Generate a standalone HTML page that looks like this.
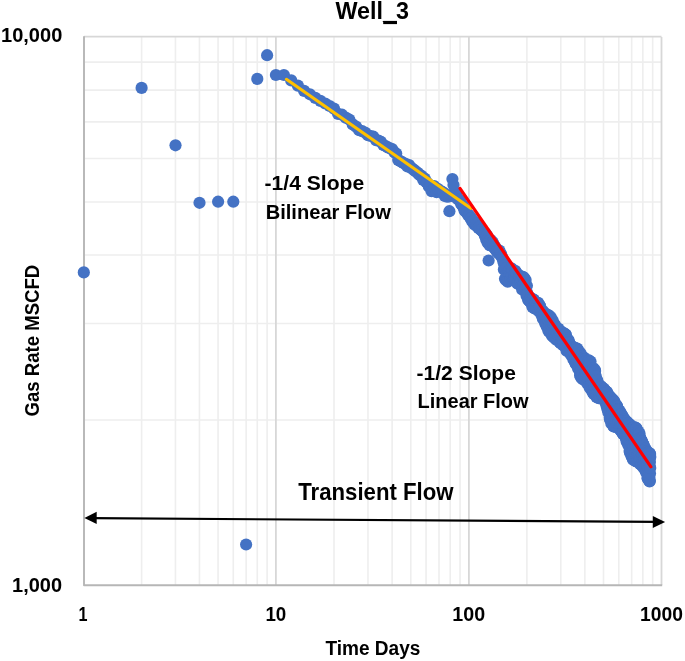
<!DOCTYPE html>
<html><head><meta charset="utf-8"><title>Well_3</title>
<style>html,body{margin:0;padding:0;background:#fff;width:685px;height:661px;overflow:hidden;font-family:"Liberation Sans",sans-serif}svg{display:block;will-change:transform}</style>
</head><body><svg width="685" height="661" viewBox="0 0 685 661"><rect x="0" y="0" width="685" height="661" fill="#fff"/><line x1="141.63" y1="37" x2="141.63" y2="585" stroke="#eeeeee" stroke-width="1.6"/><line x1="175.45" y1="37" x2="175.45" y2="585" stroke="#eeeeee" stroke-width="1.6"/><line x1="199.46" y1="37" x2="199.46" y2="585" stroke="#eeeeee" stroke-width="1.6"/><line x1="218.07" y1="37" x2="218.07" y2="585" stroke="#eeeeee" stroke-width="1.6"/><line x1="233.28" y1="37" x2="233.28" y2="585" stroke="#eeeeee" stroke-width="1.6"/><line x1="246.14" y1="37" x2="246.14" y2="585" stroke="#eeeeee" stroke-width="1.6"/><line x1="257.28" y1="37" x2="257.28" y2="585" stroke="#eeeeee" stroke-width="1.6"/><line x1="267.11" y1="37" x2="267.11" y2="585" stroke="#eeeeee" stroke-width="1.6"/><line x1="334.00" y1="37" x2="334.00" y2="585" stroke="#eeeeee" stroke-width="1.6"/><line x1="367.98" y1="37" x2="367.98" y2="585" stroke="#eeeeee" stroke-width="1.6"/><line x1="392.10" y1="37" x2="392.10" y2="585" stroke="#eeeeee" stroke-width="1.6"/><line x1="410.80" y1="37" x2="410.80" y2="585" stroke="#eeeeee" stroke-width="1.6"/><line x1="426.08" y1="37" x2="426.08" y2="585" stroke="#eeeeee" stroke-width="1.6"/><line x1="439.00" y1="37" x2="439.00" y2="585" stroke="#eeeeee" stroke-width="1.6"/><line x1="450.20" y1="37" x2="450.20" y2="585" stroke="#eeeeee" stroke-width="1.6"/><line x1="460.07" y1="37" x2="460.07" y2="585" stroke="#eeeeee" stroke-width="1.6"/><line x1="526.88" y1="37" x2="526.88" y2="585" stroke="#eeeeee" stroke-width="1.6"/><line x1="560.79" y1="37" x2="560.79" y2="585" stroke="#eeeeee" stroke-width="1.6"/><line x1="584.86" y1="37" x2="584.86" y2="585" stroke="#eeeeee" stroke-width="1.6"/><line x1="603.52" y1="37" x2="603.52" y2="585" stroke="#eeeeee" stroke-width="1.6"/><line x1="618.77" y1="37" x2="618.77" y2="585" stroke="#eeeeee" stroke-width="1.6"/><line x1="631.67" y1="37" x2="631.67" y2="585" stroke="#eeeeee" stroke-width="1.6"/><line x1="642.84" y1="37" x2="642.84" y2="585" stroke="#eeeeee" stroke-width="1.6"/><line x1="652.69" y1="37" x2="652.69" y2="585" stroke="#eeeeee" stroke-width="1.6"/><line x1="84" y1="420.04" x2="661.5" y2="420.04" stroke="#eeeeee" stroke-width="1.6"/><line x1="84" y1="323.54" x2="661.5" y2="323.54" stroke="#eeeeee" stroke-width="1.6"/><line x1="84" y1="255.07" x2="661.5" y2="255.07" stroke="#eeeeee" stroke-width="1.6"/><line x1="84" y1="201.96" x2="661.5" y2="201.96" stroke="#eeeeee" stroke-width="1.6"/><line x1="84" y1="158.57" x2="661.5" y2="158.57" stroke="#eeeeee" stroke-width="1.6"/><line x1="84" y1="121.89" x2="661.5" y2="121.89" stroke="#eeeeee" stroke-width="1.6"/><line x1="84" y1="90.11" x2="661.5" y2="90.11" stroke="#eeeeee" stroke-width="1.6"/><line x1="84" y1="62.08" x2="661.5" y2="62.08" stroke="#eeeeee" stroke-width="1.6"/><line x1="275.90" y1="37" x2="275.90" y2="585" stroke="#d7d7d7" stroke-width="1.8"/><line x1="468.90" y1="37" x2="468.90" y2="585" stroke="#d7d7d7" stroke-width="1.8"/><line x1="661.50" y1="37" x2="661.50" y2="585" stroke="#d7d7d7" stroke-width="1.8"/><line x1="84" y1="36.7" x2="661.5" y2="36.7" stroke="#d7d7d7" stroke-width="1.8"/><polyline points="84,36.3 84,585.3 662.2,585.3" fill="none" stroke="#b6b6b6" stroke-width="1.9" stroke-linejoin="round"/><g fill="#4472c4"><circle cx="83.8" cy="272.4" r="6.1"/><circle cx="141.6" cy="87.9" r="6.1"/><circle cx="175.5" cy="145.3" r="6.1"/><circle cx="199.5" cy="202.8" r="6.1"/><circle cx="218.1" cy="201.7" r="6.1"/><circle cx="233.3" cy="201.7" r="6.1"/><circle cx="246.1" cy="544.5" r="6.1"/><circle cx="257.3" cy="78.9" r="6.1"/><circle cx="267.1" cy="55.2" r="6.1"/><circle cx="275.9" cy="75.0" r="6.1"/><circle cx="283.9" cy="75.0" r="6.1"/><circle cx="291.2" cy="80.4" r="6.1"/><circle cx="297.9" cy="85.6" r="6.1"/><circle cx="304.1" cy="90.9" r="6.1"/><circle cx="309.9" cy="94.3" r="6.1"/><circle cx="315.3" cy="97.9" r="6.1"/><circle cx="320.4" cy="100.9" r="6.1"/><circle cx="325.2" cy="103.5" r="6.1"/><circle cx="329.7" cy="106.0" r="6.1"/><circle cx="334.0" cy="108.6" r="6.1"/><circle cx="338.1" cy="113.9" r="6.1"/><circle cx="342.0" cy="114.7" r="6.1"/><circle cx="345.7" cy="117.6" r="6.1"/><circle cx="349.3" cy="119.5" r="6.1"/><circle cx="352.7" cy="124.4" r="6.1"/><circle cx="356.0" cy="126.6" r="6.1"/><circle cx="359.2" cy="130.2" r="6.1"/><circle cx="362.2" cy="131.2" r="6.1"/><circle cx="365.1" cy="132.5" r="6.1"/><circle cx="368.0" cy="135.2" r="6.1"/><circle cx="370.7" cy="136.0" r="6.1"/><circle cx="373.4" cy="136.7" r="6.1"/><circle cx="376.0" cy="140.1" r="6.1"/><circle cx="378.5" cy="140.6" r="6.1"/><circle cx="380.9" cy="141.8" r="6.1"/><circle cx="383.3" cy="145.0" r="6.1"/><circle cx="385.6" cy="146.0" r="6.1"/><circle cx="387.8" cy="147.4" r="6.1"/><circle cx="390.0" cy="148.3" r="6.1"/><circle cx="392.1" cy="149.1" r="6.1"/><circle cx="394.2" cy="152.1" r="6.1"/><circle cx="396.2" cy="153.5" r="6.1"/><circle cx="398.2" cy="160.0" r="6.1"/><circle cx="400.1" cy="161.0" r="6.1"/><circle cx="402.0" cy="162.1" r="6.1"/><circle cx="403.8" cy="163.3" r="6.1"/><circle cx="405.6" cy="163.8" r="6.1"/><circle cx="407.4" cy="166.4" r="6.1"/><circle cx="409.1" cy="165.0" r="6.1"/><circle cx="410.8" cy="167.8" r="6.1"/><circle cx="412.5" cy="168.7" r="6.1"/><circle cx="414.1" cy="170.1" r="6.1"/><circle cx="415.7" cy="171.3" r="6.1"/><circle cx="417.3" cy="172.6" r="6.1"/><circle cx="418.8" cy="174.1" r="6.1"/><circle cx="420.3" cy="175.4" r="6.1"/><circle cx="421.8" cy="176.1" r="6.1"/><circle cx="423.2" cy="180.0" r="6.1"/><circle cx="424.7" cy="178.6" r="6.1"/><circle cx="426.1" cy="181.9" r="6.1"/><circle cx="427.5" cy="183.1" r="6.1"/><circle cx="428.8" cy="186.4" r="6.1"/><circle cx="430.2" cy="185.3" r="6.1"/><circle cx="431.5" cy="191.1" r="6.1"/><circle cx="432.8" cy="191.0" r="6.1"/><circle cx="434.1" cy="186.1" r="6.1"/><circle cx="435.3" cy="188.6" r="6.1"/><circle cx="436.6" cy="192.1" r="6.1"/><circle cx="437.8" cy="188.8" r="6.1"/><circle cx="439.0" cy="191.2" r="6.1"/><circle cx="440.2" cy="191.4" r="6.1"/><circle cx="441.4" cy="191.4" r="6.1"/><circle cx="442.5" cy="192.4" r="6.1"/><circle cx="443.7" cy="192.8" r="6.1"/><circle cx="444.8" cy="195.9" r="6.1"/><circle cx="445.9" cy="194.9" r="6.1"/><circle cx="447.0" cy="196.6" r="6.1"/><circle cx="448.1" cy="195.6" r="6.1"/><circle cx="449.1" cy="196.5" r="6.1"/><circle cx="450.2" cy="195.8" r="6.1"/><circle cx="451.2" cy="195.4" r="6.1"/><circle cx="452.3" cy="194.9" r="6.1"/><circle cx="453.3" cy="195.6" r="6.1"/><circle cx="454.3" cy="195.2" r="6.1"/><circle cx="455.3" cy="195.8" r="6.1"/><circle cx="456.3" cy="193.5" r="6.1"/><circle cx="457.2" cy="198.8" r="6.1"/><circle cx="458.2" cy="199.0" r="6.1"/><circle cx="459.1" cy="200.0" r="6.1"/><circle cx="460.1" cy="200.7" r="6.1"/><circle cx="461.0" cy="203.6" r="6.1"/><circle cx="461.9" cy="204.8" r="6.1"/><circle cx="462.8" cy="205.6" r="6.1"/><circle cx="463.7" cy="207.9" r="6.1"/><circle cx="464.6" cy="210.7" r="6.1"/><circle cx="465.5" cy="209.8" r="6.1"/><circle cx="466.3" cy="212.2" r="6.1"/><circle cx="467.2" cy="213.0" r="6.1"/><circle cx="468.1" cy="215.1" r="6.1"/><circle cx="468.9" cy="215.3" r="6.1"/><circle cx="469.7" cy="216.1" r="6.1"/><circle cx="470.6" cy="218.4" r="6.1"/><circle cx="471.4" cy="218.3" r="6.1"/><circle cx="472.2" cy="221.2" r="6.1"/><circle cx="473.0" cy="222.1" r="6.1"/><circle cx="473.8" cy="221.2" r="6.1"/><circle cx="474.6" cy="224.8" r="6.1"/><circle cx="475.3" cy="223.2" r="6.1"/><circle cx="476.1" cy="223.8" r="6.1"/><circle cx="476.9" cy="225.0" r="6.1"/><circle cx="477.6" cy="226.6" r="6.1"/><circle cx="478.4" cy="228.0" r="6.1"/><circle cx="479.1" cy="227.3" r="6.1"/><circle cx="479.9" cy="228.1" r="6.1"/><circle cx="480.6" cy="229.5" r="6.1"/><circle cx="481.3" cy="230.2" r="6.1"/><circle cx="482.0" cy="229.6" r="6.1"/><circle cx="482.7" cy="231.4" r="6.1"/><circle cx="483.5" cy="232.2" r="6.1"/><circle cx="484.2" cy="232.9" r="6.1"/><circle cx="484.8" cy="235.6" r="6.1"/><circle cx="485.5" cy="233.2" r="6.1"/><circle cx="486.2" cy="239.5" r="6.1"/><circle cx="486.9" cy="235.4" r="6.1"/><circle cx="487.6" cy="242.8" r="6.1"/><circle cx="488.2" cy="238.9" r="6.1"/><circle cx="488.9" cy="241.2" r="6.1"/><circle cx="489.5" cy="245.1" r="6.1"/><circle cx="490.2" cy="245.1" r="6.1"/><circle cx="490.8" cy="240.1" r="6.1"/><circle cx="491.5" cy="245.6" r="6.1"/><circle cx="492.1" cy="241.9" r="6.1"/><circle cx="492.8" cy="242.5" r="6.1"/><circle cx="493.4" cy="244.4" r="6.1"/><circle cx="494.0" cy="246.6" r="6.1"/><circle cx="494.6" cy="248.2" r="6.1"/><circle cx="495.2" cy="246.8" r="6.1"/><circle cx="495.8" cy="249.6" r="6.1"/><circle cx="496.4" cy="250.9" r="6.1"/><circle cx="497.0" cy="251.0" r="6.1"/><circle cx="497.6" cy="250.6" r="6.1"/><circle cx="498.2" cy="252.7" r="6.1"/><circle cx="498.8" cy="253.8" r="6.1"/><circle cx="499.4" cy="250.6" r="6.1"/><circle cx="500.0" cy="253.3" r="6.1"/><circle cx="500.6" cy="254.8" r="6.1"/><circle cx="501.1" cy="254.0" r="6.1"/><circle cx="501.7" cy="256.7" r="6.1"/><circle cx="502.3" cy="257.8" r="6.1"/><circle cx="502.8" cy="259.0" r="6.1"/><circle cx="503.4" cy="262.1" r="6.1"/><circle cx="503.9" cy="269.5" r="6.1"/><circle cx="504.5" cy="265.6" r="6.1"/><circle cx="505.0" cy="278.7" r="6.1"/><circle cx="505.6" cy="268.4" r="6.1"/><circle cx="506.1" cy="280.3" r="6.1"/><circle cx="506.6" cy="273.5" r="6.1"/><circle cx="507.2" cy="277.1" r="6.1"/><circle cx="507.7" cy="281.6" r="6.1"/><circle cx="508.2" cy="279.4" r="6.1"/><circle cx="508.7" cy="271.3" r="6.1"/><circle cx="509.3" cy="270.3" r="6.1"/><circle cx="509.8" cy="274.9" r="6.1"/><circle cx="510.3" cy="279.1" r="6.1"/><circle cx="510.8" cy="278.2" r="6.1"/><circle cx="511.3" cy="268.3" r="6.1"/><circle cx="511.8" cy="275.0" r="6.1"/><circle cx="512.3" cy="269.4" r="6.1"/><circle cx="512.8" cy="279.8" r="6.1"/><circle cx="513.3" cy="278.2" r="6.1"/><circle cx="513.8" cy="278.7" r="6.1"/><circle cx="514.3" cy="274.7" r="6.1"/><circle cx="514.7" cy="277.8" r="6.1"/><circle cx="515.2" cy="270.9" r="6.1"/><circle cx="515.7" cy="279.4" r="6.1"/><circle cx="516.2" cy="272.4" r="6.1"/><circle cx="516.7" cy="274.0" r="6.1"/><circle cx="517.1" cy="283.0" r="6.1"/><circle cx="517.6" cy="283.6" r="6.1"/><circle cx="518.1" cy="283.0" r="6.1"/><circle cx="518.5" cy="278.5" r="6.1"/><circle cx="519.0" cy="277.3" r="6.1"/><circle cx="519.4" cy="275.3" r="6.1"/><circle cx="519.9" cy="277.7" r="6.1"/><circle cx="520.4" cy="277.6" r="6.1"/><circle cx="520.8" cy="281.7" r="6.1"/><circle cx="521.3" cy="278.7" r="6.1"/><circle cx="521.7" cy="279.0" r="6.1"/><circle cx="522.1" cy="289.5" r="6.1"/><circle cx="522.6" cy="276.8" r="6.1"/><circle cx="523.0" cy="277.0" r="6.1"/><circle cx="523.5" cy="285.6" r="6.1"/><circle cx="523.9" cy="283.9" r="6.1"/><circle cx="524.3" cy="278.1" r="6.1"/><circle cx="524.8" cy="282.9" r="6.1"/><circle cx="525.2" cy="287.3" r="6.1"/><circle cx="525.6" cy="280.0" r="6.1"/><circle cx="526.0" cy="287.0" r="6.1"/><circle cx="526.5" cy="295.6" r="6.1"/><circle cx="526.9" cy="285.8" r="6.1"/><circle cx="527.3" cy="293.5" r="6.1"/><circle cx="527.7" cy="294.6" r="6.1"/><circle cx="528.1" cy="299.8" r="6.1"/><circle cx="528.5" cy="296.2" r="6.1"/><circle cx="528.9" cy="300.3" r="6.1"/><circle cx="529.4" cy="300.7" r="6.1"/><circle cx="529.8" cy="301.4" r="6.1"/><circle cx="530.2" cy="299.0" r="6.1"/><circle cx="530.6" cy="298.1" r="6.1"/><circle cx="531.0" cy="302.9" r="6.1"/><circle cx="531.4" cy="298.7" r="6.1"/><circle cx="531.8" cy="299.7" r="6.1"/><circle cx="532.1" cy="299.5" r="6.1"/><circle cx="532.5" cy="306.9" r="6.1"/><circle cx="532.9" cy="299.3" r="6.1"/><circle cx="533.3" cy="307.4" r="6.1"/><circle cx="533.7" cy="299.5" r="6.1"/><circle cx="534.1" cy="301.1" r="6.1"/><circle cx="534.5" cy="308.4" r="6.1"/><circle cx="534.9" cy="302.8" r="6.1"/><circle cx="535.2" cy="301.8" r="6.1"/><circle cx="535.6" cy="304.6" r="6.1"/><circle cx="536.0" cy="303.1" r="6.1"/><circle cx="536.4" cy="302.5" r="6.1"/><circle cx="536.7" cy="309.1" r="6.1"/><circle cx="537.1" cy="303.0" r="6.1"/><circle cx="537.5" cy="309.2" r="6.1"/><circle cx="537.8" cy="303.3" r="6.1"/><circle cx="538.2" cy="302.8" r="6.1"/><circle cx="538.6" cy="310.1" r="6.1"/><circle cx="538.9" cy="311.3" r="6.1"/><circle cx="539.3" cy="305.8" r="6.1"/><circle cx="539.7" cy="305.5" r="6.1"/><circle cx="540.0" cy="306.3" r="6.1"/><circle cx="540.4" cy="307.5" r="6.1"/><circle cx="540.7" cy="311.1" r="6.1"/><circle cx="541.1" cy="309.8" r="6.1"/><circle cx="541.4" cy="314.7" r="6.1"/><circle cx="541.8" cy="313.0" r="6.1"/><circle cx="542.1" cy="311.6" r="6.1"/><circle cx="542.5" cy="310.9" r="6.1"/><circle cx="542.8" cy="318.6" r="6.1"/><circle cx="543.2" cy="311.8" r="6.1"/><circle cx="543.5" cy="317.9" r="6.1"/><circle cx="543.9" cy="314.2" r="6.1"/><circle cx="544.2" cy="314.4" r="6.1"/><circle cx="544.5" cy="314.2" r="6.1"/><circle cx="544.9" cy="322.1" r="6.1"/><circle cx="545.2" cy="313.3" r="6.1"/><circle cx="545.5" cy="324.0" r="6.1"/><circle cx="545.9" cy="315.8" r="6.1"/><circle cx="546.2" cy="323.6" r="6.1"/><circle cx="546.5" cy="323.2" r="6.1"/><circle cx="546.9" cy="327.0" r="6.1"/><circle cx="547.2" cy="318.6" r="6.1"/><circle cx="547.5" cy="316.4" r="6.1"/><circle cx="547.9" cy="314.9" r="6.1"/><circle cx="548.2" cy="319.4" r="6.1"/><circle cx="548.5" cy="330.9" r="6.1"/><circle cx="548.8" cy="316.3" r="6.1"/><circle cx="549.1" cy="315.9" r="6.1"/><circle cx="549.5" cy="326.1" r="6.1"/><circle cx="549.8" cy="330.6" r="6.1"/><circle cx="550.1" cy="332.5" r="6.1"/><circle cx="550.4" cy="323.1" r="6.1"/><circle cx="550.7" cy="317.0" r="6.1"/><circle cx="551.0" cy="333.3" r="6.1"/><circle cx="551.4" cy="324.8" r="6.1"/><circle cx="551.7" cy="322.3" r="6.1"/><circle cx="552.0" cy="335.7" r="6.1"/><circle cx="552.3" cy="333.7" r="6.1"/><circle cx="552.6" cy="320.2" r="6.1"/><circle cx="552.9" cy="323.8" r="6.1"/><circle cx="553.2" cy="336.5" r="6.1"/><circle cx="553.5" cy="324.1" r="6.1"/><circle cx="553.8" cy="336.8" r="6.1"/><circle cx="554.1" cy="337.7" r="6.1"/><circle cx="554.4" cy="324.1" r="6.1"/><circle cx="554.7" cy="333.0" r="6.1"/><circle cx="555.0" cy="326.6" r="6.1"/><circle cx="555.3" cy="325.8" r="6.1"/><circle cx="555.6" cy="336.8" r="6.1"/><circle cx="555.9" cy="327.9" r="6.1"/><circle cx="556.2" cy="339.7" r="6.1"/><circle cx="556.5" cy="336.3" r="6.1"/><circle cx="556.8" cy="331.5" r="6.1"/><circle cx="557.1" cy="335.1" r="6.1"/><circle cx="557.4" cy="339.1" r="6.1"/><circle cx="557.7" cy="330.8" r="6.1"/><circle cx="558.0" cy="328.5" r="6.1"/><circle cx="558.2" cy="339.2" r="6.1"/><circle cx="558.5" cy="328.9" r="6.1"/><circle cx="558.8" cy="336.2" r="6.1"/><circle cx="559.1" cy="330.5" r="6.1"/><circle cx="559.4" cy="341.9" r="6.1"/><circle cx="559.7" cy="336.5" r="6.1"/><circle cx="560.0" cy="336.3" r="6.1"/><circle cx="560.2" cy="334.6" r="6.1"/><circle cx="560.5" cy="343.0" r="6.1"/><circle cx="560.8" cy="342.6" r="6.1"/><circle cx="561.1" cy="339.0" r="6.1"/><circle cx="561.3" cy="343.5" r="6.1"/><circle cx="561.6" cy="342.6" r="6.1"/><circle cx="561.9" cy="334.5" r="6.1"/><circle cx="562.2" cy="332.2" r="6.1"/><circle cx="562.4" cy="342.0" r="6.1"/><circle cx="562.7" cy="340.0" r="6.1"/><circle cx="563.0" cy="345.2" r="6.1"/><circle cx="563.3" cy="340.4" r="6.1"/><circle cx="563.5" cy="338.8" r="6.1"/><circle cx="563.8" cy="342.6" r="6.1"/><circle cx="564.1" cy="333.3" r="6.1"/><circle cx="564.3" cy="336.7" r="6.1"/><circle cx="564.6" cy="334.2" r="6.1"/><circle cx="564.9" cy="334.2" r="6.1"/><circle cx="565.1" cy="335.0" r="6.1"/><circle cx="565.4" cy="334.3" r="6.1"/><circle cx="565.7" cy="345.8" r="6.1"/><circle cx="565.9" cy="334.9" r="6.1"/><circle cx="566.2" cy="347.5" r="6.1"/><circle cx="566.5" cy="350.6" r="6.1"/><circle cx="566.7" cy="338.5" r="6.1"/><circle cx="567.0" cy="350.4" r="6.1"/><circle cx="567.2" cy="348.1" r="6.1"/><circle cx="567.5" cy="342.3" r="6.1"/><circle cx="567.7" cy="349.0" r="6.1"/><circle cx="568.0" cy="340.4" r="6.1"/><circle cx="568.3" cy="340.2" r="6.1"/><circle cx="568.5" cy="340.0" r="6.1"/><circle cx="568.8" cy="342.2" r="6.1"/><circle cx="569.0" cy="350.1" r="6.1"/><circle cx="569.3" cy="342.8" r="6.1"/><circle cx="569.5" cy="346.0" r="6.1"/><circle cx="569.8" cy="348.7" r="6.1"/><circle cx="570.0" cy="353.3" r="6.1"/><circle cx="570.3" cy="348.8" r="6.1"/><circle cx="570.5" cy="349.9" r="6.1"/><circle cx="570.8" cy="346.8" r="6.1"/><circle cx="571.0" cy="345.6" r="6.1"/><circle cx="571.3" cy="351.7" r="6.1"/><circle cx="571.5" cy="355.8" r="6.1"/><circle cx="571.8" cy="347.4" r="6.1"/><circle cx="572.0" cy="350.7" r="6.1"/><circle cx="572.2" cy="348.0" r="6.1"/><circle cx="572.5" cy="347.2" r="6.1"/><circle cx="572.7" cy="347.9" r="6.1"/><circle cx="573.0" cy="353.7" r="6.1"/><circle cx="573.2" cy="354.5" r="6.1"/><circle cx="573.4" cy="359.3" r="6.1"/><circle cx="573.7" cy="348.4" r="6.1"/><circle cx="573.9" cy="357.6" r="6.1"/><circle cx="574.2" cy="347.5" r="6.1"/><circle cx="574.4" cy="352.4" r="6.1"/><circle cx="574.6" cy="361.0" r="6.1"/><circle cx="574.9" cy="361.2" r="6.1"/><circle cx="575.1" cy="347.8" r="6.1"/><circle cx="575.3" cy="362.1" r="6.1"/><circle cx="575.6" cy="363.4" r="6.1"/><circle cx="575.8" cy="357.9" r="6.1"/><circle cx="576.0" cy="364.1" r="6.1"/><circle cx="576.3" cy="351.5" r="6.1"/><circle cx="576.5" cy="361.8" r="6.1"/><circle cx="576.7" cy="363.5" r="6.1"/><circle cx="577.0" cy="362.1" r="6.1"/><circle cx="577.2" cy="348.6" r="6.1"/><circle cx="577.4" cy="355.2" r="6.1"/><circle cx="577.7" cy="365.7" r="6.1"/><circle cx="577.9" cy="360.4" r="6.1"/><circle cx="578.1" cy="368.4" r="6.1"/><circle cx="578.3" cy="367.4" r="6.1"/><circle cx="578.6" cy="350.7" r="6.1"/><circle cx="578.8" cy="366.4" r="6.1"/><circle cx="579.0" cy="358.0" r="6.1"/><circle cx="579.2" cy="356.5" r="6.1"/><circle cx="579.5" cy="366.9" r="6.1"/><circle cx="579.7" cy="362.4" r="6.1"/><circle cx="579.9" cy="371.7" r="6.1"/><circle cx="580.1" cy="375.2" r="6.1"/><circle cx="580.3" cy="372.5" r="6.1"/><circle cx="580.6" cy="353.4" r="6.1"/><circle cx="580.8" cy="377.1" r="6.1"/><circle cx="581.0" cy="355.7" r="6.1"/><circle cx="581.2" cy="369.4" r="6.1"/><circle cx="581.4" cy="356.1" r="6.1"/><circle cx="581.7" cy="374.2" r="6.1"/><circle cx="581.9" cy="356.6" r="6.1"/><circle cx="582.1" cy="378.5" r="6.1"/><circle cx="582.3" cy="358.3" r="6.1"/><circle cx="582.5" cy="374.7" r="6.1"/><circle cx="582.7" cy="379.1" r="6.1"/><circle cx="583.0" cy="358.3" r="6.1"/><circle cx="583.2" cy="363.7" r="6.1"/><circle cx="583.4" cy="358.2" r="6.1"/><circle cx="583.6" cy="361.5" r="6.1"/><circle cx="583.8" cy="368.5" r="6.1"/><circle cx="584.0" cy="357.5" r="6.1"/><circle cx="584.2" cy="378.6" r="6.1"/><circle cx="584.4" cy="377.7" r="6.1"/><circle cx="584.6" cy="359.4" r="6.1"/><circle cx="584.9" cy="359.6" r="6.1"/><circle cx="585.1" cy="380.1" r="6.1"/><circle cx="585.3" cy="369.3" r="6.1"/><circle cx="585.5" cy="360.6" r="6.1"/><circle cx="585.7" cy="364.2" r="6.1"/><circle cx="585.9" cy="363.3" r="6.1"/><circle cx="586.1" cy="361.0" r="6.1"/><circle cx="586.3" cy="377.3" r="6.1"/><circle cx="586.5" cy="373.7" r="6.1"/><circle cx="586.7" cy="368.3" r="6.1"/><circle cx="586.9" cy="383.0" r="6.1"/><circle cx="587.1" cy="365.5" r="6.1"/><circle cx="587.3" cy="368.6" r="6.1"/><circle cx="587.5" cy="370.8" r="6.1"/><circle cx="587.7" cy="378.4" r="6.1"/><circle cx="587.9" cy="362.3" r="6.1"/><circle cx="588.1" cy="376.6" r="6.1"/><circle cx="588.3" cy="371.1" r="6.1"/><circle cx="588.5" cy="363.1" r="6.1"/><circle cx="588.7" cy="360.4" r="6.1"/><circle cx="588.9" cy="378.7" r="6.1"/><circle cx="589.1" cy="360.7" r="6.1"/><circle cx="589.3" cy="386.6" r="6.1"/><circle cx="589.5" cy="365.4" r="6.1"/><circle cx="589.7" cy="363.1" r="6.1"/><circle cx="589.9" cy="371.1" r="6.1"/><circle cx="590.1" cy="381.0" r="6.1"/><circle cx="590.3" cy="388.4" r="6.1"/><circle cx="590.5" cy="361.5" r="6.1"/><circle cx="590.7" cy="383.4" r="6.1"/><circle cx="590.9" cy="379.1" r="6.1"/><circle cx="591.1" cy="378.5" r="6.1"/><circle cx="591.3" cy="387.6" r="6.1"/><circle cx="591.5" cy="383.3" r="6.1"/><circle cx="591.7" cy="382.7" r="6.1"/><circle cx="591.9" cy="382.4" r="6.1"/><circle cx="592.1" cy="381.0" r="6.1"/><circle cx="592.3" cy="391.3" r="6.1"/><circle cx="592.4" cy="385.9" r="6.1"/><circle cx="592.6" cy="370.0" r="6.1"/><circle cx="592.8" cy="381.7" r="6.1"/><circle cx="593.0" cy="392.1" r="6.1"/><circle cx="593.2" cy="387.2" r="6.1"/><circle cx="593.4" cy="393.3" r="6.1"/><circle cx="593.6" cy="368.4" r="6.1"/><circle cx="593.8" cy="393.9" r="6.1"/><circle cx="594.0" cy="381.0" r="6.1"/><circle cx="594.1" cy="384.5" r="6.1"/><circle cx="594.3" cy="377.9" r="6.1"/><circle cx="594.5" cy="387.2" r="6.1"/><circle cx="594.7" cy="371.4" r="6.1"/><circle cx="594.9" cy="370.0" r="6.1"/><circle cx="595.1" cy="371.0" r="6.1"/><circle cx="595.3" cy="389.7" r="6.1"/><circle cx="595.4" cy="378.8" r="6.1"/><circle cx="595.6" cy="395.0" r="6.1"/><circle cx="595.8" cy="376.4" r="6.1"/><circle cx="596.0" cy="393.0" r="6.1"/><circle cx="596.2" cy="387.2" r="6.1"/><circle cx="596.4" cy="396.9" r="6.1"/><circle cx="596.5" cy="394.2" r="6.1"/><circle cx="596.7" cy="384.7" r="6.1"/><circle cx="596.9" cy="394.7" r="6.1"/><circle cx="597.1" cy="384.7" r="6.1"/><circle cx="597.3" cy="380.3" r="6.1"/><circle cx="597.5" cy="397.5" r="6.1"/><circle cx="597.6" cy="386.1" r="6.1"/><circle cx="597.8" cy="391.9" r="6.1"/><circle cx="598.0" cy="396.9" r="6.1"/><circle cx="598.2" cy="395.3" r="6.1"/><circle cx="598.3" cy="384.5" r="6.1"/><circle cx="598.5" cy="387.1" r="6.1"/><circle cx="598.7" cy="398.1" r="6.1"/><circle cx="598.9" cy="385.4" r="6.1"/><circle cx="599.1" cy="387.0" r="6.1"/><circle cx="599.2" cy="395.1" r="6.1"/><circle cx="599.4" cy="392.9" r="6.1"/><circle cx="599.6" cy="397.0" r="6.1"/><circle cx="599.8" cy="387.5" r="6.1"/><circle cx="599.9" cy="395.1" r="6.1"/><circle cx="600.1" cy="398.3" r="6.1"/><circle cx="600.3" cy="387.3" r="6.1"/><circle cx="600.5" cy="386.7" r="6.1"/><circle cx="600.6" cy="392.3" r="6.1"/><circle cx="600.8" cy="386.1" r="6.1"/><circle cx="601.0" cy="393.4" r="6.1"/><circle cx="601.1" cy="391.1" r="6.1"/><circle cx="601.3" cy="387.4" r="6.1"/><circle cx="601.5" cy="387.0" r="6.1"/><circle cx="601.7" cy="393.2" r="6.1"/><circle cx="601.8" cy="393.2" r="6.1"/><circle cx="602.0" cy="387.5" r="6.1"/><circle cx="602.2" cy="391.3" r="6.1"/><circle cx="602.3" cy="393.1" r="6.1"/><circle cx="602.5" cy="390.1" r="6.1"/><circle cx="602.7" cy="394.3" r="6.1"/><circle cx="602.8" cy="397.6" r="6.1"/><circle cx="603.0" cy="391.2" r="6.1"/><circle cx="603.2" cy="395.8" r="6.1"/><circle cx="603.4" cy="389.6" r="6.1"/><circle cx="603.5" cy="395.8" r="6.1"/><circle cx="603.7" cy="397.0" r="6.1"/><circle cx="603.9" cy="388.8" r="6.1"/><circle cx="604.0" cy="391.1" r="6.1"/><circle cx="604.2" cy="396.7" r="6.1"/><circle cx="604.4" cy="396.3" r="6.1"/><circle cx="604.5" cy="397.5" r="6.1"/><circle cx="604.7" cy="392.0" r="6.1"/><circle cx="604.8" cy="401.1" r="6.1"/><circle cx="605.0" cy="390.2" r="6.1"/><circle cx="605.2" cy="397.8" r="6.1"/><circle cx="605.3" cy="399.7" r="6.1"/><circle cx="605.5" cy="394.0" r="6.1"/><circle cx="605.7" cy="395.9" r="6.1"/><circle cx="605.8" cy="391.4" r="6.1"/><circle cx="606.0" cy="392.5" r="6.1"/><circle cx="606.2" cy="403.6" r="6.1"/><circle cx="606.3" cy="396.7" r="6.1"/><circle cx="606.5" cy="405.6" r="6.1"/><circle cx="606.6" cy="393.2" r="6.1"/><circle cx="606.8" cy="391.9" r="6.1"/><circle cx="607.0" cy="402.4" r="6.1"/><circle cx="607.1" cy="393.7" r="6.1"/><circle cx="607.3" cy="392.8" r="6.1"/><circle cx="607.4" cy="409.1" r="6.1"/><circle cx="607.6" cy="405.9" r="6.1"/><circle cx="607.8" cy="408.8" r="6.1"/><circle cx="607.9" cy="405.9" r="6.1"/><circle cx="608.1" cy="398.1" r="6.1"/><circle cx="608.2" cy="395.3" r="6.1"/><circle cx="608.4" cy="412.5" r="6.1"/><circle cx="608.6" cy="410.8" r="6.1"/><circle cx="608.7" cy="395.0" r="6.1"/><circle cx="608.9" cy="406.4" r="6.1"/><circle cx="609.0" cy="397.8" r="6.1"/><circle cx="609.2" cy="408.8" r="6.1"/><circle cx="609.3" cy="403.6" r="6.1"/><circle cx="609.5" cy="413.0" r="6.1"/><circle cx="609.6" cy="396.9" r="6.1"/><circle cx="609.8" cy="417.8" r="6.1"/><circle cx="610.0" cy="419.3" r="6.1"/><circle cx="610.1" cy="403.6" r="6.1"/><circle cx="610.3" cy="405.7" r="6.1"/><circle cx="610.4" cy="419.2" r="6.1"/><circle cx="610.6" cy="397.4" r="6.1"/><circle cx="610.7" cy="412.0" r="6.1"/><circle cx="610.9" cy="398.1" r="6.1"/><circle cx="611.0" cy="419.7" r="6.1"/><circle cx="611.2" cy="419.4" r="6.1"/><circle cx="611.3" cy="423.4" r="6.1"/><circle cx="611.5" cy="412.1" r="6.1"/><circle cx="611.6" cy="417.4" r="6.1"/><circle cx="611.8" cy="413.9" r="6.1"/><circle cx="611.9" cy="400.3" r="6.1"/><circle cx="612.1" cy="419.1" r="6.1"/><circle cx="612.3" cy="419.7" r="6.1"/><circle cx="612.4" cy="414.0" r="6.1"/><circle cx="612.6" cy="412.6" r="6.1"/><circle cx="612.7" cy="399.3" r="6.1"/><circle cx="612.9" cy="417.7" r="6.1"/><circle cx="613.0" cy="410.0" r="6.1"/><circle cx="613.2" cy="400.7" r="6.1"/><circle cx="613.3" cy="402.5" r="6.1"/><circle cx="613.4" cy="404.0" r="6.1"/><circle cx="613.6" cy="426.5" r="6.1"/><circle cx="613.7" cy="426.3" r="6.1"/><circle cx="613.9" cy="424.3" r="6.1"/><circle cx="614.0" cy="411.7" r="6.1"/><circle cx="614.2" cy="421.9" r="6.1"/><circle cx="614.3" cy="401.2" r="6.1"/><circle cx="614.5" cy="402.3" r="6.1"/><circle cx="614.6" cy="423.4" r="6.1"/><circle cx="614.8" cy="425.4" r="6.1"/><circle cx="614.9" cy="406.5" r="6.1"/><circle cx="615.1" cy="408.4" r="6.1"/><circle cx="615.2" cy="425.8" r="6.1"/><circle cx="615.4" cy="407.6" r="6.1"/><circle cx="615.5" cy="426.8" r="6.1"/><circle cx="615.6" cy="409.2" r="6.1"/><circle cx="615.8" cy="424.7" r="6.1"/><circle cx="615.9" cy="422.0" r="6.1"/><circle cx="616.1" cy="426.8" r="6.1"/><circle cx="616.2" cy="421.5" r="6.1"/><circle cx="616.4" cy="411.3" r="6.1"/><circle cx="616.5" cy="405.3" r="6.1"/><circle cx="616.7" cy="407.9" r="6.1"/><circle cx="616.8" cy="407.1" r="6.1"/><circle cx="616.9" cy="406.0" r="6.1"/><circle cx="617.1" cy="406.8" r="6.1"/><circle cx="617.2" cy="426.0" r="6.1"/><circle cx="617.4" cy="409.5" r="6.1"/><circle cx="617.5" cy="426.0" r="6.1"/><circle cx="617.6" cy="409.7" r="6.1"/><circle cx="617.8" cy="417.1" r="6.1"/><circle cx="617.9" cy="409.6" r="6.1"/><circle cx="618.1" cy="424.7" r="6.1"/><circle cx="618.2" cy="413.5" r="6.1"/><circle cx="618.4" cy="413.8" r="6.1"/><circle cx="618.5" cy="412.1" r="6.1"/><circle cx="618.6" cy="422.4" r="6.1"/><circle cx="618.8" cy="410.5" r="6.1"/><circle cx="618.9" cy="413.6" r="6.1"/><circle cx="619.1" cy="410.6" r="6.1"/><circle cx="619.2" cy="428.5" r="6.1"/><circle cx="619.3" cy="413.9" r="6.1"/><circle cx="619.5" cy="411.8" r="6.1"/><circle cx="619.6" cy="426.7" r="6.1"/><circle cx="619.7" cy="411.3" r="6.1"/><circle cx="619.9" cy="426.5" r="6.1"/><circle cx="620.0" cy="419.5" r="6.1"/><circle cx="620.2" cy="429.6" r="6.1"/><circle cx="620.3" cy="425.9" r="6.1"/><circle cx="620.4" cy="413.8" r="6.1"/><circle cx="620.6" cy="412.9" r="6.1"/><circle cx="620.7" cy="423.7" r="6.1"/><circle cx="620.8" cy="430.7" r="6.1"/><circle cx="621.0" cy="426.3" r="6.1"/><circle cx="621.1" cy="414.4" r="6.1"/><circle cx="621.2" cy="428.6" r="6.1"/><circle cx="621.4" cy="414.2" r="6.1"/><circle cx="621.5" cy="431.5" r="6.1"/><circle cx="621.6" cy="429.0" r="6.1"/><circle cx="621.8" cy="421.1" r="6.1"/><circle cx="621.9" cy="423.9" r="6.1"/><circle cx="622.1" cy="417.1" r="6.1"/><circle cx="622.2" cy="430.8" r="6.1"/><circle cx="622.3" cy="422.1" r="6.1"/><circle cx="622.5" cy="430.9" r="6.1"/><circle cx="622.6" cy="424.8" r="6.1"/><circle cx="622.7" cy="416.4" r="6.1"/><circle cx="622.9" cy="416.7" r="6.1"/><circle cx="623.0" cy="433.7" r="6.1"/><circle cx="623.1" cy="434.0" r="6.1"/><circle cx="623.3" cy="427.3" r="6.1"/><circle cx="623.4" cy="431.3" r="6.1"/><circle cx="623.5" cy="434.4" r="6.1"/><circle cx="623.6" cy="426.0" r="6.1"/><circle cx="623.8" cy="419.8" r="6.1"/><circle cx="623.9" cy="428.1" r="6.1"/><circle cx="624.0" cy="428.0" r="6.1"/><circle cx="624.2" cy="432.5" r="6.1"/><circle cx="624.3" cy="425.7" r="6.1"/><circle cx="624.4" cy="425.5" r="6.1"/><circle cx="624.6" cy="419.6" r="6.1"/><circle cx="624.7" cy="426.6" r="6.1"/><circle cx="624.8" cy="434.9" r="6.1"/><circle cx="625.0" cy="420.5" r="6.1"/><circle cx="625.1" cy="436.0" r="6.1"/><circle cx="625.2" cy="430.7" r="6.1"/><circle cx="625.3" cy="421.2" r="6.1"/><circle cx="625.5" cy="425.4" r="6.1"/><circle cx="625.6" cy="433.9" r="6.1"/><circle cx="625.7" cy="434.8" r="6.1"/><circle cx="625.9" cy="421.2" r="6.1"/><circle cx="626.0" cy="437.9" r="6.1"/><circle cx="626.1" cy="438.1" r="6.1"/><circle cx="626.2" cy="430.8" r="6.1"/><circle cx="626.4" cy="422.6" r="6.1"/><circle cx="626.5" cy="423.5" r="6.1"/><circle cx="626.6" cy="440.5" r="6.1"/><circle cx="626.7" cy="441.7" r="6.1"/><circle cx="626.9" cy="422.2" r="6.1"/><circle cx="627.0" cy="421.7" r="6.1"/><circle cx="627.1" cy="433.4" r="6.1"/><circle cx="627.2" cy="434.2" r="6.1"/><circle cx="627.4" cy="437.7" r="6.1"/><circle cx="627.5" cy="435.8" r="6.1"/><circle cx="627.6" cy="423.1" r="6.1"/><circle cx="627.8" cy="431.1" r="6.1"/><circle cx="627.9" cy="430.6" r="6.1"/><circle cx="628.0" cy="435.7" r="6.1"/><circle cx="628.1" cy="444.6" r="6.1"/><circle cx="628.3" cy="425.7" r="6.1"/><circle cx="628.4" cy="423.4" r="6.1"/><circle cx="628.5" cy="434.0" r="6.1"/><circle cx="628.6" cy="428.7" r="6.1"/><circle cx="628.7" cy="423.7" r="6.1"/><circle cx="628.9" cy="440.9" r="6.1"/><circle cx="629.0" cy="445.2" r="6.1"/><circle cx="629.1" cy="443.4" r="6.1"/><circle cx="629.2" cy="444.9" r="6.1"/><circle cx="629.4" cy="427.1" r="6.1"/><circle cx="629.5" cy="445.1" r="6.1"/><circle cx="629.6" cy="451.1" r="6.1"/><circle cx="629.7" cy="446.4" r="6.1"/><circle cx="629.9" cy="435.0" r="6.1"/><circle cx="630.0" cy="452.7" r="6.1"/><circle cx="630.1" cy="440.7" r="6.1"/><circle cx="630.2" cy="447.9" r="6.1"/><circle cx="630.3" cy="424.9" r="6.1"/><circle cx="630.5" cy="428.9" r="6.1"/><circle cx="630.6" cy="427.3" r="6.1"/><circle cx="630.7" cy="451.0" r="6.1"/><circle cx="630.8" cy="431.2" r="6.1"/><circle cx="630.9" cy="426.1" r="6.1"/><circle cx="631.1" cy="440.7" r="6.1"/><circle cx="631.2" cy="442.2" r="6.1"/><circle cx="631.3" cy="441.7" r="6.1"/><circle cx="631.4" cy="436.7" r="6.1"/><circle cx="631.5" cy="455.9" r="6.1"/><circle cx="631.7" cy="428.6" r="6.1"/><circle cx="631.8" cy="443.7" r="6.1"/><circle cx="631.9" cy="457.1" r="6.1"/><circle cx="632.0" cy="446.1" r="6.1"/><circle cx="632.1" cy="443.2" r="6.1"/><circle cx="632.3" cy="436.3" r="6.1"/><circle cx="632.4" cy="455.7" r="6.1"/><circle cx="632.5" cy="449.0" r="6.1"/><circle cx="632.6" cy="455.8" r="6.1"/><circle cx="632.7" cy="435.8" r="6.1"/><circle cx="632.9" cy="427.5" r="6.1"/><circle cx="633.0" cy="446.7" r="6.1"/><circle cx="633.1" cy="459.7" r="6.1"/><circle cx="633.2" cy="458.9" r="6.1"/><circle cx="633.3" cy="429.1" r="6.1"/><circle cx="633.4" cy="446.7" r="6.1"/><circle cx="633.6" cy="443.8" r="6.1"/><circle cx="633.7" cy="449.0" r="6.1"/><circle cx="633.8" cy="446.6" r="6.1"/><circle cx="633.9" cy="432.1" r="6.1"/><circle cx="634.0" cy="427.8" r="6.1"/><circle cx="634.1" cy="455.3" r="6.1"/><circle cx="634.3" cy="429.0" r="6.1"/><circle cx="634.4" cy="438.0" r="6.1"/><circle cx="634.5" cy="427.1" r="6.1"/><circle cx="634.6" cy="458.1" r="6.1"/><circle cx="634.7" cy="442.5" r="6.1"/><circle cx="634.8" cy="457.7" r="6.1"/><circle cx="634.9" cy="442.2" r="6.1"/><circle cx="635.1" cy="428.8" r="6.1"/><circle cx="635.2" cy="438.1" r="6.1"/><circle cx="635.3" cy="437.7" r="6.1"/><circle cx="635.4" cy="444.3" r="6.1"/><circle cx="635.5" cy="440.7" r="6.1"/><circle cx="635.6" cy="438.1" r="6.1"/><circle cx="635.7" cy="461.2" r="6.1"/><circle cx="635.9" cy="433.1" r="6.1"/><circle cx="636.0" cy="437.6" r="6.1"/><circle cx="636.1" cy="445.8" r="6.1"/><circle cx="636.2" cy="430.6" r="6.1"/><circle cx="636.3" cy="428.4" r="6.1"/><circle cx="636.4" cy="428.2" r="6.1"/><circle cx="636.5" cy="461.4" r="6.1"/><circle cx="636.7" cy="461.2" r="6.1"/><circle cx="636.8" cy="460.8" r="6.1"/><circle cx="636.9" cy="456.3" r="6.1"/><circle cx="637.0" cy="440.4" r="6.1"/><circle cx="637.1" cy="457.3" r="6.1"/><circle cx="637.2" cy="461.0" r="6.1"/><circle cx="637.3" cy="433.5" r="6.1"/><circle cx="637.4" cy="458.7" r="6.1"/><circle cx="637.5" cy="437.6" r="6.1"/><circle cx="637.7" cy="461.0" r="6.1"/><circle cx="637.8" cy="459.9" r="6.1"/><circle cx="637.9" cy="442.5" r="6.1"/><circle cx="638.0" cy="440.3" r="6.1"/><circle cx="638.1" cy="436.2" r="6.1"/><circle cx="638.2" cy="461.1" r="6.1"/><circle cx="638.3" cy="442.3" r="6.1"/><circle cx="638.4" cy="431.5" r="6.1"/><circle cx="638.5" cy="435.2" r="6.1"/><circle cx="638.7" cy="444.0" r="6.1"/><circle cx="638.8" cy="459.1" r="6.1"/><circle cx="638.9" cy="433.5" r="6.1"/><circle cx="639.0" cy="452.5" r="6.1"/><circle cx="639.1" cy="452.5" r="6.1"/><circle cx="639.2" cy="458.5" r="6.1"/><circle cx="639.3" cy="436.3" r="6.1"/><circle cx="639.4" cy="455.3" r="6.1"/><circle cx="639.5" cy="433.6" r="6.1"/><circle cx="639.6" cy="442.8" r="6.1"/><circle cx="639.7" cy="443.3" r="6.1"/><circle cx="639.9" cy="459.2" r="6.1"/><circle cx="640.0" cy="442.2" r="6.1"/><circle cx="640.1" cy="437.8" r="6.1"/><circle cx="640.2" cy="464.2" r="6.1"/><circle cx="640.3" cy="460.2" r="6.1"/><circle cx="640.4" cy="438.6" r="6.1"/><circle cx="640.5" cy="442.5" r="6.1"/><circle cx="640.6" cy="439.3" r="6.1"/><circle cx="640.7" cy="457.9" r="6.1"/><circle cx="640.8" cy="440.1" r="6.1"/><circle cx="640.9" cy="463.2" r="6.1"/><circle cx="641.0" cy="460.6" r="6.1"/><circle cx="641.1" cy="440.1" r="6.1"/><circle cx="641.3" cy="452.6" r="6.1"/><circle cx="641.4" cy="463.7" r="6.1"/><circle cx="641.5" cy="464.5" r="6.1"/><circle cx="641.6" cy="465.0" r="6.1"/><circle cx="641.7" cy="441.1" r="6.1"/><circle cx="641.8" cy="441.4" r="6.1"/><circle cx="641.9" cy="444.6" r="6.1"/><circle cx="642.0" cy="442.6" r="6.1"/><circle cx="642.1" cy="452.8" r="6.1"/><circle cx="642.2" cy="449.4" r="6.1"/><circle cx="642.3" cy="464.1" r="6.1"/><circle cx="642.4" cy="455.8" r="6.1"/><circle cx="642.5" cy="458.8" r="6.1"/><circle cx="642.6" cy="461.4" r="6.1"/><circle cx="642.7" cy="450.2" r="6.1"/><circle cx="642.8" cy="443.8" r="6.1"/><circle cx="642.9" cy="460.2" r="6.1"/><circle cx="643.0" cy="451.5" r="6.1"/><circle cx="643.1" cy="444.1" r="6.1"/><circle cx="643.3" cy="467.4" r="6.1"/><circle cx="643.4" cy="461.2" r="6.1"/><circle cx="643.5" cy="447.3" r="6.1"/><circle cx="643.6" cy="449.3" r="6.1"/><circle cx="643.7" cy="466.2" r="6.1"/><circle cx="643.8" cy="466.7" r="6.1"/><circle cx="643.9" cy="445.6" r="6.1"/><circle cx="644.0" cy="463.3" r="6.1"/><circle cx="644.1" cy="450.2" r="6.1"/><circle cx="644.2" cy="466.3" r="6.1"/><circle cx="644.3" cy="465.0" r="6.1"/><circle cx="644.4" cy="450.7" r="6.1"/><circle cx="644.5" cy="455.0" r="6.1"/><circle cx="644.6" cy="469.0" r="6.1"/><circle cx="644.7" cy="459.7" r="6.1"/><circle cx="644.8" cy="462.9" r="6.1"/><circle cx="644.9" cy="458.5" r="6.1"/><circle cx="645.0" cy="454.4" r="6.1"/><circle cx="645.1" cy="468.9" r="6.1"/><circle cx="645.2" cy="469.9" r="6.1"/><circle cx="645.3" cy="450.4" r="6.1"/><circle cx="645.4" cy="448.7" r="6.1"/><circle cx="645.5" cy="466.0" r="6.1"/><circle cx="645.6" cy="463.5" r="6.1"/><circle cx="645.7" cy="456.6" r="6.1"/><circle cx="645.8" cy="467.7" r="6.1"/><circle cx="645.9" cy="456.2" r="6.1"/><circle cx="646.0" cy="449.8" r="6.1"/><circle cx="646.1" cy="457.2" r="6.1"/><circle cx="646.2" cy="471.1" r="6.1"/><circle cx="646.3" cy="472.8" r="6.1"/><circle cx="646.4" cy="451.6" r="6.1"/><circle cx="646.5" cy="457.5" r="6.1"/><circle cx="646.6" cy="462.2" r="6.1"/><circle cx="646.7" cy="459.0" r="6.1"/><circle cx="646.8" cy="455.3" r="6.1"/><circle cx="646.9" cy="452.8" r="6.1"/><circle cx="647.0" cy="465.8" r="6.1"/><circle cx="647.1" cy="465.7" r="6.1"/><circle cx="647.2" cy="455.7" r="6.1"/><circle cx="647.3" cy="454.1" r="6.1"/><circle cx="647.4" cy="453.7" r="6.1"/><circle cx="647.5" cy="464.7" r="6.1"/><circle cx="647.6" cy="477.9" r="6.1"/><circle cx="647.7" cy="478.4" r="6.1"/><circle cx="647.8" cy="453.6" r="6.1"/><circle cx="647.9" cy="467.0" r="6.1"/><circle cx="648.0" cy="454.9" r="6.1"/><circle cx="648.1" cy="454.7" r="6.1"/><circle cx="648.2" cy="456.7" r="6.1"/><circle cx="648.3" cy="477.9" r="6.1"/><circle cx="648.4" cy="452.8" r="6.1"/><circle cx="648.5" cy="452.6" r="6.1"/><circle cx="648.6" cy="460.8" r="6.1"/><circle cx="648.7" cy="477.5" r="6.1"/><circle cx="648.8" cy="468.5" r="6.1"/><circle cx="648.9" cy="457.4" r="6.1"/><circle cx="649.0" cy="474.4" r="6.1"/><circle cx="649.1" cy="456.3" r="6.1"/><circle cx="649.2" cy="479.9" r="6.1"/><circle cx="649.3" cy="480.4" r="6.1"/><circle cx="649.4" cy="477.8" r="6.1"/><circle cx="649.5" cy="481.5" r="6.1"/><circle cx="649.6" cy="466.1" r="6.1"/><circle cx="649.7" cy="453.6" r="6.1"/><circle cx="649.8" cy="481.0" r="6.1"/><circle cx="649.9" cy="461.9" r="6.1"/><circle cx="649.9" cy="457.8" r="6.1"/><circle cx="650.0" cy="473.4" r="6.1"/><circle cx="650.1" cy="454.1" r="6.1"/><circle cx="650.2" cy="467.9" r="6.1"/><circle cx="650.3" cy="456.9" r="6.1"/><circle cx="449.4" cy="211.2" r="6.1"/><circle cx="452.4" cy="179.1" r="6.1"/><circle cx="453.5" cy="185.0" r="6.1"/><circle cx="488.6" cy="260.5" r="6.1"/></g><line x1="286.4" y1="79.3" x2="470.8" y2="208.3" stroke="#ffc000" stroke-width="3.1" stroke-linecap="round"/><line x1="460" y1="188.4" x2="650.9" y2="466.8" stroke="#ff0000" stroke-width="3.2" stroke-linecap="round"/><line x1="92" y1="518.2" x2="657" y2="521.8" stroke="#000" stroke-width="2.2"/><polygon points="84.4,518 96.7,511.8 96.7,524" fill="#000"/><polygon points="665.1,522 652.8,516 652.8,528" fill="#000"/><text x="335.4" y="19" font-size="23.5" textLength="73.5" lengthAdjust="spacingAndGlyphs" text-anchor="start" font-family="&quot;Liberation Sans&quot;, sans-serif" font-weight="bold" fill="#000">Well_3</text><rect x="383.2" y="20.9" width="13.8" height="3.2" fill="#000"/><text x="1" y="41.9" font-size="19.5" textLength="61.3" lengthAdjust="spacingAndGlyphs" text-anchor="start" font-family="&quot;Liberation Sans&quot;, sans-serif" font-weight="bold" fill="#000">10,000</text><text x="12.1" y="592" font-size="19.5" textLength="50" lengthAdjust="spacingAndGlyphs" text-anchor="start" font-family="&quot;Liberation Sans&quot;, sans-serif" font-weight="bold" fill="#000">1,000</text><text x="78.5" y="621" font-size="19.5" textLength="9" lengthAdjust="spacingAndGlyphs" text-anchor="start" font-family="&quot;Liberation Sans&quot;, sans-serif" font-weight="bold" fill="#000">1</text><text x="265.4" y="621" font-size="19.5" textLength="20.9" lengthAdjust="spacingAndGlyphs" text-anchor="start" font-family="&quot;Liberation Sans&quot;, sans-serif" font-weight="bold" fill="#000">10</text><text x="452.3" y="621" font-size="19.5" textLength="32.8" lengthAdjust="spacingAndGlyphs" text-anchor="start" font-family="&quot;Liberation Sans&quot;, sans-serif" font-weight="bold" fill="#000">100</text><text x="640" y="621" font-size="19.5" textLength="42.9" lengthAdjust="spacingAndGlyphs" text-anchor="start" font-family="&quot;Liberation Sans&quot;, sans-serif" font-weight="bold" fill="#000">1000</text><text x="325.4" y="654.6" font-size="20" textLength="95" lengthAdjust="spacingAndGlyphs" text-anchor="start" font-family="&quot;Liberation Sans&quot;, sans-serif" font-weight="bold" fill="#000">Time Days</text><g transform="translate(39.4,416.4) rotate(-90)"><text x="0" y="0" font-size="20" textLength="151.6" lengthAdjust="spacingAndGlyphs" text-anchor="start" font-family="&quot;Liberation Sans&quot;, sans-serif" font-weight="bold" fill="#000">Gas Rate MSCFD</text></g><text x="264.5" y="190.4" font-size="20.8" textLength="99.7" lengthAdjust="spacingAndGlyphs" text-anchor="start" font-family="&quot;Liberation Sans&quot;, sans-serif" font-weight="bold" fill="#000">-1/4 Slope</text><text x="265.7" y="219" font-size="20.8" textLength="125.1" lengthAdjust="spacingAndGlyphs" text-anchor="start" font-family="&quot;Liberation Sans&quot;, sans-serif" font-weight="bold" fill="#000">Bilinear Flow</text><text x="416.6" y="379.9" font-size="20.8" textLength="99.3" lengthAdjust="spacingAndGlyphs" text-anchor="start" font-family="&quot;Liberation Sans&quot;, sans-serif" font-weight="bold" fill="#000">-1/2 Slope</text><text x="417.6" y="408.4" font-size="20.8" textLength="111" lengthAdjust="spacingAndGlyphs" text-anchor="start" font-family="&quot;Liberation Sans&quot;, sans-serif" font-weight="bold" fill="#000">Linear Flow</text><text x="298.3" y="500.2" font-size="23.8" textLength="155.2" lengthAdjust="spacingAndGlyphs" text-anchor="start" font-family="&quot;Liberation Sans&quot;, sans-serif" font-weight="bold" fill="#000">Transient Flow</text></svg></body></html>
